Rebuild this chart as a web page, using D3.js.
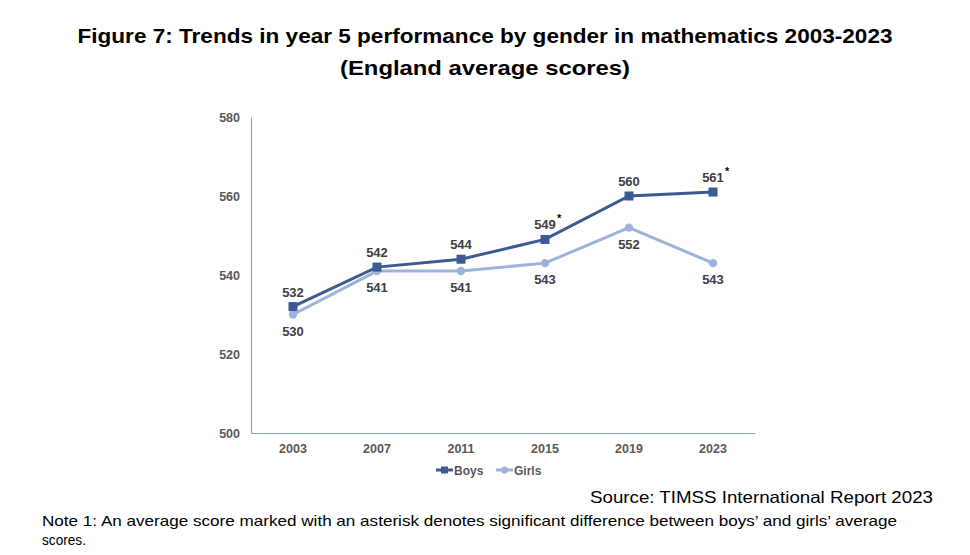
<!DOCTYPE html>
<html>
<head>
<meta charset="utf-8">
<script src="https://cdn.jsdelivr.net/npm/d3@7"></script>
<style>
  body { margin: 0; background: #fff; }
  svg { display: block; font-family: "Liberation Sans", Arial, sans-serif; }
</style>
</head>
<body>
<div id="chart"></div>
<script>
// ── Data ────────────────────────────────────────────────────────────────
const years = ["2003", "2007", "2011", "2015", "2019", "2023"];
const boys  = [532, 542, 544, 549, 560, 561];
const girls = [530, 541, 541, 543, 552, 543];
const boysSig = [false, false, false, true, false, true];   // asterisk markers
const yTicks = [500, 520, 540, 560, 580];

const BOYS  = "#3B5B92";
const GIRLS = "#9DB4DA";
const AXIS  = "#8FA2C8";
const TICK  = "#595959";
const LABEL = "#404040";

const W = 970, H = 555;
const margin = { top: 117, right: 215, bottom: 122, left: 251 };
const chartW = W - margin.left - margin.right;
const chartH = H - margin.top - margin.bottom;

const svg = d3.select("#chart").append("svg")
  .attr("width", W).attr("height", H);

// ── Title ───────────────────────────────────────────────────────────────
svg.append("text")
  .attr("x", W / 2).attr("y", 43)
  .attr("text-anchor", "middle")
  .attr("textLength", 815).attr("lengthAdjust", "spacingAndGlyphs")
  .style("font-size", "21px").style("font-weight", "700").style("fill", "#000")
  .text("Figure 7: Trends in year 5 performance by gender in mathematics 2003-2023");
svg.append("text")
  .attr("x", W / 2).attr("y", 75)
  .attr("text-anchor", "middle")
  .attr("textLength", 290).attr("lengthAdjust", "spacingAndGlyphs")
  .style("font-size", "21px").style("font-weight", "700").style("fill", "#000")
  .text("(England average scores)");

const g = svg.append("g").attr("transform", `translate(${margin.left},${margin.top})`);

// ── Scales ──────────────────────────────────────────────────────────────
const x = d3.scaleBand().domain(years).range([0, chartW]);
const y = d3.scaleLinear().domain([500, 580]).range([chartH, 0]);
const cx = d => x(d) + x.bandwidth() / 2;

// ── Axes ────────────────────────────────────────────────────────────────
const yAxis = g.append("g")
  .call(d3.axisLeft(y).tickValues(yTicks).tickSize(0).tickPadding(11));
yAxis.select(".domain").attr("stroke", AXIS).attr("stroke-width", 1.2);
yAxis.selectAll("text")
  .style("font-size", "12.5px").style("font-weight", "700").style("fill", TICK)
  .style("font-family", "'Liberation Sans', Arial, sans-serif");

const xAxis = g.append("g")
  .attr("transform", `translate(0,${chartH})`)
  .call(d3.axisBottom(x).tickSize(0).tickPadding(11));
xAxis.select(".domain").attr("stroke", AXIS).attr("stroke-width", 1.2);
xAxis.selectAll("text")
  .style("font-size", "12.5px").style("font-weight", "700").style("fill", TICK)
  .style("font-family", "'Liberation Sans', Arial, sans-serif");

// ── Lines ───────────────────────────────────────────────────────────────
const line = d3.line().x(d => cx(d.year)).y(d => y(d.v));
const girlsPts = years.map((yr, i) => ({ year: yr, v: girls[i] }));
const boysPts  = years.map((yr, i) => ({ year: yr, v: boys[i], sig: boysSig[i] }));

g.append("path").datum(girlsPts).attr("d", line)
  .attr("fill", "none").attr("stroke", GIRLS).attr("stroke-width", 3);
g.selectAll(".gdot").data(girlsPts).join("circle")
  .attr("cx", d => cx(d.year)).attr("cy", d => y(d.v))
  .attr("r", 4.2).attr("fill", GIRLS);

g.append("path").datum(boysPts).attr("d", line)
  .attr("fill", "none").attr("stroke", BOYS).attr("stroke-width", 3);
g.selectAll(".bdot").data(boysPts).join("rect")
  .attr("x", d => cx(d.year) - 4.5).attr("y", d => y(d.v) - 4.5)
  .attr("width", 9).attr("height", 9).attr("fill", BOYS);

// ── Data labels ─────────────────────────────────────────────────────────
g.selectAll(".blab").data(boysPts).join("text")
  .attr("x", d => cx(d.year)).attr("y", d => y(d.v) - 10)
  .attr("text-anchor", "middle")
  .style("font-size", "13px").style("font-weight", "700").style("fill", LABEL)
  .text(d => d.v);
g.selectAll(".bsig").data(boysPts.filter(d => d.sig)).join("text")
  .attr("x", d => cx(d.year) + 12).attr("y", d => y(d.v) - 17)
  .style("font-size", "11px").style("font-weight", "700").style("fill", "#000")
  .text("*");

g.selectAll(".glab").data(girlsPts).join("text")
  .attr("x", d => cx(d.year)).attr("y", d => y(d.v) + 21)
  .attr("text-anchor", "middle")
  .style("font-size", "13px").style("font-weight", "700").style("fill", LABEL)
  .text(d => d.v);

// ── Legend ──────────────────────────────────────────────────────────────
const legend = svg.append("g").attr("transform", "translate(436,470)");
[{ name: "Boys", color: BOYS, sq: true, dx: 0 },
 { name: "Girls", color: GIRLS, sq: false, dx: 60 }].forEach(s => {
  const lg = legend.append("g").attr("transform", `translate(${s.dx},0)`);
  lg.append("line").attr("x1", 0).attr("x2", 17).attr("y1", 0).attr("y2", 0)
    .attr("stroke", s.color).attr("stroke-width", 3);
  if (s.sq) {
    lg.append("rect").attr("x", 5).attr("y", -3.5).attr("width", 7).attr("height", 7).attr("fill", s.color);
  } else {
    lg.append("circle").attr("cx", 8.5).attr("cy", 0).attr("r", 3.5).attr("fill", s.color);
  }
  lg.append("text").attr("x", 18).attr("y", 4.5)
    .style("font-size", "12px").style("font-weight", "700").style("fill", TICK)
    .text(s.name);
});

// ── Source & note ───────────────────────────────────────────────────────
svg.append("text")
  .attr("x", 933).attr("y", 503).attr("text-anchor", "end")
  .attr("textLength", 343).attr("lengthAdjust", "spacingAndGlyphs")
  .style("font-size", "16.5px").style("fill", "#000")
  .text("Source: TIMSS International Report 2023");
svg.append("text")
  .attr("x", 42).attr("y", 526)
  .attr("textLength", 855).attr("lengthAdjust", "spacingAndGlyphs")
  .style("font-size", "15px").style("fill", "#000")
  .text("Note 1: An average score marked with an asterisk denotes significant difference between boys\u2019 and girls\u2019 average");
svg.append("text")
  .attr("x", 42).attr("y", 545)
  .attr("textLength", 44).attr("lengthAdjust", "spacingAndGlyphs")
  .style("font-size", "15px").style("fill", "#000")
  .text("scores.");
</script>
</body>
</html>
